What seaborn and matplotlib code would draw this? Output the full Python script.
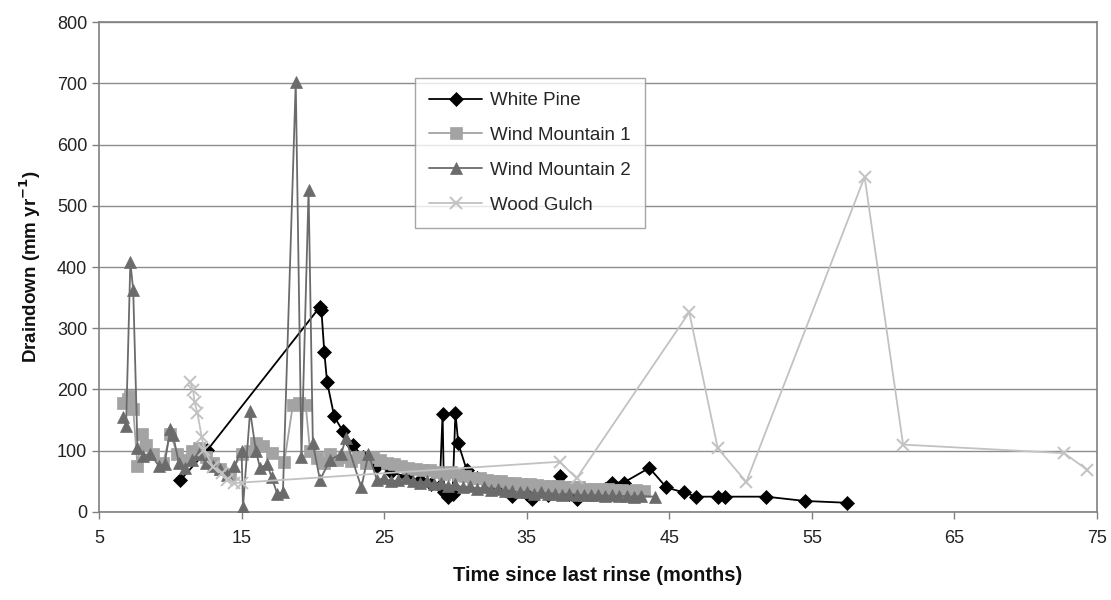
import matplotlib
matplotlib.use("Agg")
import matplotlib.pyplot as plt
import seaborn as sns
import pandas as pd

# ---- data ----
wp_x = [10.7, 12.6, 20.5, 20.6, 20.8, 21.0, 21.5, 22.1, 22.8, 23.5, 24.5, 25.5, 26.5,
        27.5, 28.3, 28.9, 29.1, 29.2, 29.5, 29.8, 30.0, 30.2, 30.8, 31.5, 32.5, 33.5,
        34.0, 35.0, 35.4, 36.5, 37.3, 38.0, 38.5, 39.5, 40.5, 41.0, 41.8, 43.6, 44.8,
        46.0, 46.9, 48.4, 48.9, 51.8, 54.5, 57.5]
wp_y = [52, 101, 335, 330, 262, 212, 156, 132, 110, 90, 75, 65, 58,
        52, 45, 42, 160, 32, 24, 30, 162, 112, 68, 55, 45, 36,
        26, 30, 21, 28, 58, 30, 21, 30, 38, 48, 48, 72, 40,
        32, 25, 25, 25, 25, 18, 15]

wm1_x = [6.7, 7.0, 7.2, 7.4, 7.7, 8.0, 8.3, 8.8, 9.5, 10.0, 10.5, 11.0, 11.5, 12.0,
         12.5, 13.0, 13.5, 14.2, 15.0, 15.6, 16.0, 16.5, 17.1, 18.0, 18.6, 19.0, 19.5,
         19.8, 20.3, 20.8, 21.2, 21.7, 22.2, 22.7, 23.2, 23.7, 24.2, 24.7, 25.2, 25.7,
         26.2, 26.7, 27.2, 27.7, 28.2, 28.7, 29.2, 29.7, 30.2, 30.7, 31.2, 31.7, 32.2,
         32.7, 33.2, 33.7, 34.2, 34.7, 35.2, 35.7, 36.2, 36.7, 37.2, 37.7, 38.2, 38.7,
         39.2, 39.7, 40.2, 40.7, 41.2, 41.7, 42.2, 42.7, 43.2]
wm1_y = [178, 185, 190, 168, 75, 128, 110, 95, 80, 128, 95, 85, 100, 105,
         90, 80, 70, 62, 95, 100, 112, 108, 96, 82, 175, 178, 175,
         100, 88, 80, 95, 85, 90, 83, 90, 80, 90, 85, 80, 78,
         75, 72, 70, 68, 68, 65, 62, 65, 60, 58, 55, 55, 52,
         50, 50, 48, 47, 45, 45, 44, 42, 42, 42, 40, 40, 40,
         38, 38, 37, 37, 36, 36, 35, 36, 35]

wm2_x = [6.7, 6.9, 7.2, 7.4, 7.7, 8.1, 8.6, 9.2, 9.6, 10.0, 10.2, 10.6, 11.0, 11.5,
         12.0, 12.5, 13.0, 13.5, 14.0, 14.5, 15.0, 15.1, 15.6, 16.0, 16.3, 16.8, 17.1,
         17.5, 17.9, 18.8, 19.2, 19.7, 20.0, 20.5, 21.2, 22.0, 22.3, 23.4, 23.9, 24.5,
         25.0, 25.5, 26.0, 26.5, 27.0, 27.5, 28.0, 28.5, 29.0, 29.5, 30.0, 30.5, 31.0,
         31.5, 32.0, 32.5, 33.0, 33.5, 34.0, 34.5, 35.0, 35.5, 36.0, 36.5, 37.0, 37.5,
         38.0, 38.5, 39.0, 39.5, 40.0, 40.5, 41.0, 41.5, 42.0, 42.5, 43.0, 44.0]
wm2_y = [155, 140, 408, 362, 105, 92, 95, 75, 78, 135, 125, 80, 72, 85,
         95, 80, 75, 70, 60, 75, 100, 8, 165, 100, 72, 78, 57,
         30, 32, 702, 90, 525, 112, 52, 85, 95, 120, 40, 95, 52,
         55, 50, 52, 55, 50, 48, 50, 45, 48, 42, 45, 40, 42,
         38, 40, 36, 38, 34, 35, 32, 33, 30, 32, 30, 30, 28,
         30, 28, 28, 27, 28, 26, 27, 26, 26, 25, 26, 25]

wg_x = [11.4, 11.6, 11.7, 11.9, 12.2, 12.4, 13.0, 13.6, 14.0, 14.5, 15.0, 37.3, 38.5,
        46.4, 48.4, 50.4, 58.7, 61.4, 72.7, 74.3]
wg_y = [212, 199, 180, 162, 123, 101, 74, 63, 52, 47, 48, 82, 55,
        326, 104, 49, 547, 110, 96, 69]

series_names = ["White Pine", "Wind Mountain 1", "Wind Mountain 2", "Wood Gulch"]
x_ticks = [5, 15, 25, 35, 45, 55, 65, 75]
y_ticks = [0, 100, 200, 300, 400, 500, 600, 700, 800]

# ---- plotting ----
sns.set_theme(style="white")
plt.rcParams["font.family"] = ["Liberation Sans", "DejaVu Sans"]

fig = plt.figure(figsize=(11.11, 6.0), dpi=100)
ax = fig.add_axes([0.0891, 0.1467, 0.8983, 0.8166])

styles = [
    (wp_x, wp_y, "#000000", "D", 7.5, "#000000"),
    (wm1_x, wm1_y, "#a3a3a3", "s", 9.0, "#a3a3a3"),
    (wm2_x, wm2_y, "#6b6b6b", "^", 8.5, "#6b6b6b"),
    (wg_x, wg_y, "#c2c2c2", "x", 9.0, "#c2c2c2"),
]
for i, (xs, ys, col, mk, ms, mec) in enumerate(styles):
    df = pd.DataFrame({"x": xs, "y": ys})
    sns.lineplot(data=df, x="x", y="y", ax=ax, sort=False, estimator=None,
                 color=col, marker=mk, markersize=ms, markeredgecolor=mec,
                 markeredgewidth=1.4 if mk == "x" else 0.5, linewidth=1.3,
                 label=series_names[i], zorder=3 + i)

ax.set_xlim(5, 75)
ax.set_ylim(0, 800)
ax.set_xticks(x_ticks)
ax.set_yticks(y_ticks)
ax.yaxis.grid(True, color="#8c8c8c", linewidth=1.0)
ax.xaxis.grid(False)
for sp in ax.spines.values():
    sp.set_color("#808080")
    sp.set_linewidth(1.2)
ax.tick_params(axis="both", which="both", direction="out", length=5, width=1,
               color="#808080", labelsize=13, labelcolor="#222222",
               bottom=True, left=True)
ax.tick_params(axis="x", pad=8)

ax.set_xlabel("Time since last rinse (months)",
              fontsize=14.5, fontweight="bold", labelpad=14, color="#111111")
ax.set_ylabel(r"Draindown (mm yr$^{\mathbf{-1}}$)", fontsize=13.5,
              fontweight="bold", labelpad=10, color="#111111")

leg = ax.legend(loc="upper left", bbox_to_anchor=(0.317, 0.886), frameon=True,
                fancybox=False, edgecolor="#909090", fontsize=13.5,
                handlelength=2.8, labelspacing=0.95, borderpad=0.75,
                handletextpad=0.45, borderaxespad=0)
leg.get_frame().set_linewidth(1.0)

fig.savefig("out.png", dpi=100)
